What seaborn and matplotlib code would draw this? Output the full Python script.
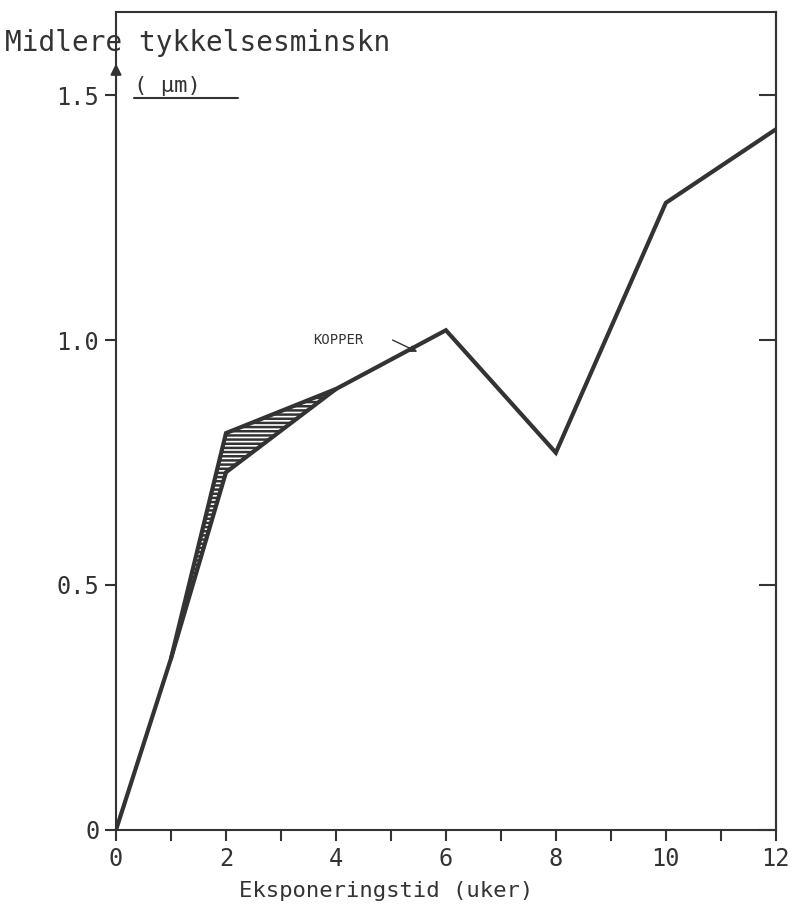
import numpy as np
import pandas as pd
import matplotlib
matplotlib.use("Agg")
import matplotlib.pyplot as plt
import seaborn as sns
from matplotlib.lines import Line2D

# data
weeks = [0, 1, 2, 4, 6, 8, 10, 12]
thinning_upper = [0.0, 0.35, 0.81, 0.90, 1.02, 0.77, 1.28, 1.43]
band_weeks = [1, 2, 4]
band_lower = [0.35, 0.73, 0.90]
band_upper = [0.35, 0.81, 0.90]
x_ticks = [0, 2, 4, 6, 8, 10, 12]
y_ticks = [0, 0.5, 1.0, 1.5]
y_tick_labels = ["0", "0.5", "1.0", "1.5"]

sns.set_style("ticks")
# stencil-like lettering: a monospaced face is the closest match
plt.rcParams['font.family'] = ['DejaVu Sans Mono']
plt.rcParams['hatch.linewidth'] = 1.8
ink = "#333333"

df = pd.DataFrame({"weeks": weeks, "thinning": thinning_upper})

fig = plt.figure(figsize=(7.92, 9.09), dpi=100)
ax = fig.add_axes([0.1465, 0.087, 0.833, 0.9])

# hatched band between the two curves
ax.fill_between(band_weeks, band_lower, band_upper, facecolor="white",
                edgecolor=ink, hatch="----", linewidth=0)
ax.plot(band_weeks, band_lower, color=ink, lw=3, solid_joinstyle="miter")
sns.lineplot(data=df, x="weeks", y="thinning", color=ink, lw=3, ax=ax)
for l in ax.lines:
    l.set_solid_joinstyle("miter")

ax.set_xlim(0, 12)
ax.set_ylim(0, 1.67)
ax.set_xticks(x_ticks)
ax.set_xticks(range(0, 13), minor=True)
ax.set_yticks(y_ticks)
ax.set_yticklabels(y_tick_labels)
ax.tick_params(axis="both", labelsize=17, colors=ink, length=8, width=1.5, pad=4)
ax.tick_params(axis="x", which="minor", length=8, width=1.5, colors=ink)
for s in ax.spines.values():
    s.set_color(ink)
    s.set_linewidth(1.5)

# inward ticks on the right frame
sec = ax.secondary_yaxis("right")
sec.set_yticks(y_ticks)
sec.set_yticklabels([])
sec.tick_params(direction="in", length=12, width=1.5, colors=ink)
sec.spines["right"].set_color(ink)
sec.spines["right"].set_linewidth(1.5)

ax.set_xlabel("Eksponeringstid (uker)", fontsize=16, color=ink)
ax.xaxis.set_label_coords((386 - 116) / 660, -0.062)
ax.set_ylabel("")

# y axis title at top left
fig.text(5 / 792, 1 - 43 / 909, "Midlere tykkelsesminskn", fontsize=20,
         color=ink, ha="left", va="center")
fig.text(134 / 792, 1 - 86 / 909, "( µm)", fontsize=16, color=ink,
         ha="left", va="center")
fig.add_artist(Line2D([134 / 792, 238 / 792], [1 - 98 / 909, 1 - 98 / 909],
                      color=ink, lw=1.5))
ax.annotate("", xy=(0, 1.57), xytext=(0, 1.5),
            arrowprops=dict(arrowstyle="-|>", color=ink, lw=1.5,
                            mutation_scale=16),
            annotation_clip=False)

# curve label
ax.text(4.05, 1.0, "KOPPER", fontsize=10, color=ink, ha="center", va="center")
ax.annotate("", xy=(5.48, 0.976), xytext=(5.03, 1.0),
            arrowprops=dict(arrowstyle="-|>", color=ink, lw=1,
                            shrinkA=0, shrinkB=0, mutation_scale=10))

fig.savefig("out.png", dpi=100, facecolor="white")
